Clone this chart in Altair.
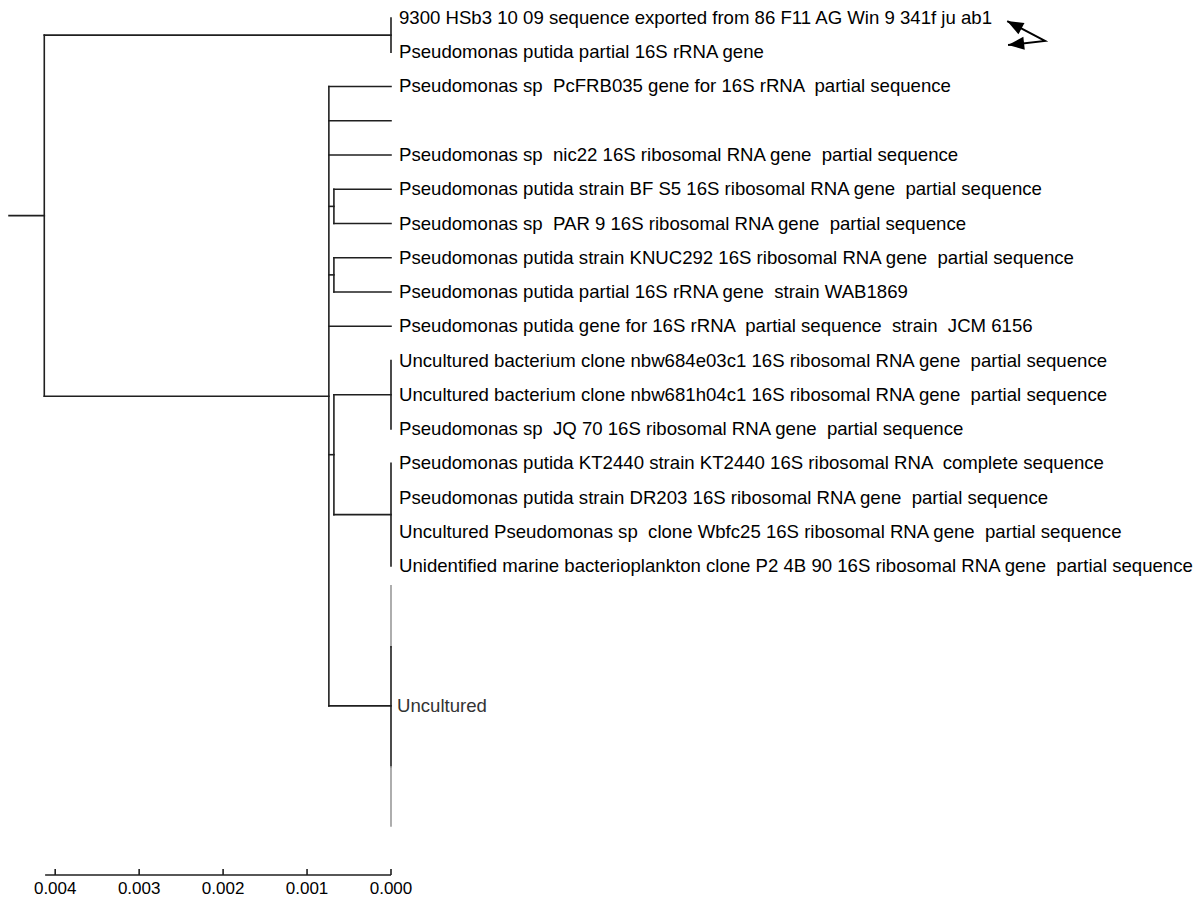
import math
import altair as alt
import pandas as pd

# ---- tip labels, top to bottom (row index = position in this list) ----
leaf_labels = [
    "9300 HSb3 10 09 sequence exported from 86 F11 AG Win 9 341f ju ab1",
    "Pseudomonas putida partial 16S rRNA gene",
    "Pseudomonas sp  PcFRB035 gene for 16S rRNA  partial sequence",
    "",
    "Pseudomonas sp  nic22 16S ribosomal RNA gene  partial sequence",
    "Pseudomonas putida strain BF S5 16S ribosomal RNA gene  partial sequence",
    "Pseudomonas sp  PAR 9 16S ribosomal RNA gene  partial sequence",
    "Pseudomonas putida strain KNUC292 16S ribosomal RNA gene  partial sequence",
    "Pseudomonas putida partial 16S rRNA gene  strain WAB1869",
    "Pseudomonas putida gene for 16S rRNA  partial sequence  strain  JCM 6156",
    "Uncultured bacterium clone nbw684e03c1 16S ribosomal RNA gene  partial sequence",
    "Uncultured bacterium clone nbw681h04c1 16S ribosomal RNA gene  partial sequence",
    "Pseudomonas sp  JQ 70 16S ribosomal RNA gene  partial sequence",
    "Pseudomonas putida KT2440 strain KT2440 16S ribosomal RNA  complete sequence",
    "Pseudomonas putida strain DR203 16S ribosomal RNA gene  partial sequence",
    "Uncultured Pseudomonas sp  clone Wbfc25 16S ribosomal RNA gene  partial sequence",
    "Unidentified marine bacterioplankton clone P2 4B 90 16S ribosomal RNA gene  partial sequence",
]

# ---- node depths (distance from the tips) ----
root_stem_start = 0.00455
root_depth = 0.00413
clade_b_depth = 0.00074
pair_depth = 0.00068
tip_depth = 0.0

# collapsed "Uncultured" group: vertical extent in rows, with the shaded ends
collapsed_label = "Uncultured"
collapsed_rows = [16.58, 18.36, 21.86, 23.59]
collapsed_tones = ["light", "dark", "light"]

# scale bar
scale_ticks = [0.004, 0.003, 0.002, 0.001, 0.000]
scale_bar_extent = [0.00412, 0.0]

# double-headed pointer near the first tip label
pointer_x = [-0.00734, -0.00779, -0.00735]
pointer_row = [0.09, 0.67, 0.79]

# tree topology: (depth, children); ints are tip rows
COLLAPSED = "collapsed"
tree = (root_depth, [
    (tip_depth, [0, 1]),
    (clade_b_depth, [
        2, 3, 4,
        (pair_depth, [5, 6]),
        (pair_depth, [7, 8]),
        9,
        (pair_depth, [(tip_depth, [10, 11, 12]), (tip_depth, [13, 14, 15, 16])]),
        COLLAPSED,
    ]),
])

segments = []
node_labels = []


def depth_of(node):
    if isinstance(node, int) or node == COLLAPSED:
        return tip_depth
    return node[0]


def layout(node):
    """Return the row of a node and append its branch segments."""
    if isinstance(node, int):
        return float(node)
    if node == COLLAPSED:
        for lo, hi, tone in zip(collapsed_rows[:-1], collapsed_rows[1:], collapsed_tones):
            segments.append(dict(x=tip_depth, x2=tip_depth, y=lo, y2=hi, tone=tone))
        mid = (collapsed_rows[0] + collapsed_rows[-1]) / 2
        node_labels.append(dict(x=tip_depth, y=mid, label=collapsed_label))
        return mid
    depth, kids = node
    rows = []
    for kid in kids:
        r = layout(kid)
        kd = depth_of(kid)
        if kd != depth:
            segments.append(dict(x=depth, x2=kd, y=r, y2=r, tone="dark"))
        rows.append(r)
    segments.append(dict(x=depth, x2=depth, y=min(rows), y2=max(rows), tone="dark"))
    return (min(rows) + max(rows)) / 2


root_row = layout(tree)
segments.append(dict(x=root_stem_start, x2=root_depth, y=root_row, y2=root_row, tone="dark"))

seg_df = pd.DataFrame(segments)
# keep doubled spaces visible in SVG text (a plain run of spaces collapses)
tips_df = pd.DataFrame(
    [dict(x=tip_depth, y=float(i), label=t.replace("  ", " \u00a0"))
     for i, t in enumerate(leaf_labels) if t]
)
node_df = pd.DataFrame(node_labels)
ticks_df = pd.DataFrame(dict(x=scale_ticks))
bar_df = pd.DataFrame(dict(x=[scale_bar_extent[0]], x2=[scale_bar_extent[1]]))

# pixels per unit, used only to orient the arrowheads on screen
W, H = 1204, 902
x_dom = [-0.0096843, 0.0046575]
y_dom = [-0.5255, 25.81]
px_x = W / (x_dom[1] - x_dom[0])
px_y = H / (y_dom[1] - y_dom[0])


def heading(x0, y0, x1, y1):
    dx = -(x1 - x0) * px_x
    dy = (y1 - y0) * px_y
    return math.degrees(math.atan2(dx, -dy)) % 360


pointer_df = pd.DataFrame(dict(x=pointer_x, y=pointer_row, i=range(len(pointer_x))))
heads_df = pd.DataFrame([
    dict(x=pointer_x[0], y=pointer_row[0],
         a=heading(pointer_x[1], pointer_row[1], pointer_x[0], pointer_row[0])),
    dict(x=pointer_x[2], y=pointer_row[2],
         a=heading(pointer_x[1], pointer_row[1], pointer_x[2], pointer_row[2])),
])

FONT = "Liberation Sans, Arial, sans-serif"
xs = alt.Scale(domain=x_dom, reverse=True, nice=False, zero=False)
ys = alt.Scale(domain=y_dom, reverse=True, nice=False, zero=False)
X = lambda f="x": alt.X(f, type="quantitative", scale=xs, axis=None)
Y = lambda f="y": alt.Y(f, type="quantitative", scale=ys, axis=None)

branches = alt.Chart(seg_df).mark_rule(strokeWidth=1.6, strokeCap="square").encode(
    x=X(), x2="x2:Q", y=Y(), y2="y2:Q",
    color=alt.Color("tone:N", scale=alt.Scale(domain=["dark", "light"],
                                              range=["#1f1f1f", "#9a9a9a"]), legend=None),
)

tip_text = alt.Chart(tips_df).mark_text(
    align="left", baseline="middle", dx=8, fontSize=18.6, font=FONT, color="#000000"
).encode(x=X(), y=Y(), text="label:N")

node_text = alt.Chart(node_df).mark_text(
    align="left", baseline="middle", dx=6, fontSize=18.6, font=FONT, color="#333333"
).encode(x=X(), y=Y(), text="label:N")

bar_line = alt.Chart(bar_df).mark_rule(strokeWidth=1.6, color="#1f1f1f").encode(
    x=X(), x2="x2:Q", y=alt.value(875)
)
bar_ticks = alt.Chart(ticks_df).mark_rule(strokeWidth=1.6, color="#1f1f1f").encode(
    x=X(), y=alt.value(869), y2=alt.value(875)
)
bar_labels = alt.Chart(ticks_df).mark_text(
    baseline="middle", fontSize=17, font=FONT, color="#000000"
).encode(x=X(), y=alt.value(889), text=alt.Text("x:Q", format=".3f"))

pointer = alt.Chart(pointer_df).mark_line(color="#000000", strokeWidth=2).encode(
    x=X(), y=Y(), order="i:O"
)
heads = alt.Chart(heads_df).mark_point(
    shape="M0,0L0.8,2L-0.8,2Z", filled=True, size=260, color="#000000", opacity=1
).encode(x=X(), y=Y(), angle=alt.Angle("a:Q", scale=None))

chart = alt.layer(
    branches, tip_text, node_text, bar_line, bar_ticks, bar_labels, pointer, heads
).properties(
    width=W, height=H, autosize=alt.AutoSizeParams(type="none"), padding=0,
    background="#ffffff",
).configure_view(stroke=None)

chart.save("out.html", embed_options={"renderer": "svg", "actions": False})
